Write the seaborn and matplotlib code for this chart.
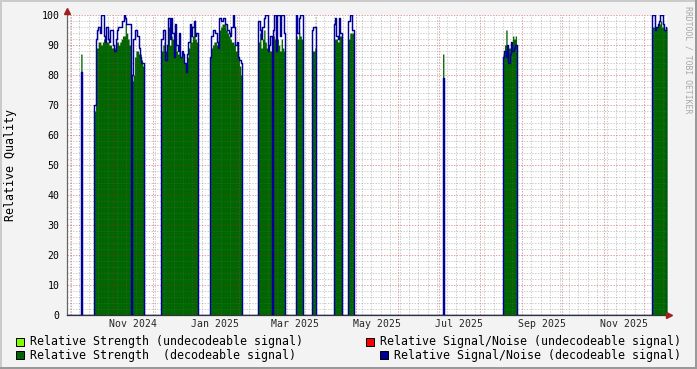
import numpy as np
import pandas as pd
import matplotlib
matplotlib.use("Agg")
import matplotlib.pyplot as plt
import matplotlib.dates as mdates
import matplotlib.ticker as mticker
import matplotlib.transforms as mtransforms
from matplotlib.patches import Rectangle
from matplotlib.lines import Line2D
import seaborn as sns

# ---------------- data ----------------
segment_start = ["2024-10-08", "2024-10-18", "2024-11-15", "2024-12-07", "2025-01-12",
                 "2025-02-17", "2025-02-28", "2025-03-17", "2025-03-29", "2025-04-14",
                 "2025-04-25", "2025-07-04", "2025-08-18", "2025-12-07"]

strength_decodeable = [
    [87],
    [68, 89, 89, 91, 91, 90, 91, 92, 92, 91, 91, 90, 90, 89, 89, 89, 91, 91, 90, 91, 92, 93, 93, 97, 94, 92, 90],
    [78, 80, 86, 88, 88, 87, 87, 85, 83],
    [88, 90, 91, 88, 90, 96, 90, 93, 92, 87, 94, 88, 87, 91, 86, 87, 87, 84, 82, 86, 89, 93, 91, 93, 97, 92, 91],
    [86, 89, 90, 91, 91, 90, 90, 95, 96, 97, 97, 97, 95, 94, 93, 92, 91, 91, 90, 88, 91, 86, 83, 80],
    [91, 94, 89, 92, 95, 91, 89, 88, 88, 88],
    [93, 92, 88, 92, 90, 88, 92, 89, 88],
    [93, 92, 94, 93, 92],
    [88, 88, 89],
    [92, 92, 92, 91, 93, 93],
    [92, 94, 94, 94],
    [87],
    [87, 90, 95, 90, 89, 89, 90, 93, 92, 93],
    [96, 96, 95, 96, 97, 97, 98, 96, 97, 95, 96],
]

snr_decodeable = [
    [81],
    [70, 92, 95, 96, 94, 100, 100, 93, 91, 96, 92, 91, 95, 95, 90, 88, 92, 95, 96, 96, 96, 98, 100, 99, 97, 97, 97],
    [80, 92, 95, 95, 93, 89, 86, 84, 84],
    [92, 95, 95, 85, 90, 99, 92, 99, 94, 86, 97, 90, 88, 94, 86, 88, 87, 84, 81, 87, 91, 97, 93, 96, 98, 93, 94],
    [86, 93, 95, 95, 94, 91, 89, 99, 98, 98, 99, 97, 97, 95, 94, 93, 96, 100, 96, 90, 91, 86, 85, 84],
    [98, 95, 92, 96, 99, 100, 100, 88, 90, 93],
    [95, 100, 88, 100, 100, 93, 100, 100, 94],
    [100, 94, 99, 100, 100],
    [95, 96, 96],
    [97, 99, 93, 92, 99, 94],
    [98, 100, 100, 95],
    [79],
    [86, 88, 86, 90, 84, 87, 91, 88, 89, 90],
    [100, 100, 95, 96, 97, 98, 100, 100, 97, 95, 96],
]

y_ticks = [0, 10, 20, 30, 40, 50, 60, 70, 80, 90, 100]
x_label_dates = ["2024-11-16", "2025-01-16", "2025-03-16", "2025-05-16",
                 "2025-07-16", "2025-09-16", "2025-11-16"]
x_labels = ["Nov 2024", "Jan 2025", "Mar 2025", "May 2025", "Jul 2025", "Sep 2025", "Nov 2025"]
legend_labels = ["Relative Strength (undecodeable signal)",
                 "Relative Strength  (decodeable signal)",
                 "Relative Signal/Noise (undecodeable signal)",
                 "Relative Signal/Noise (decodeable signal)"]
x_start = "2024-09-27 10:00"
x_end = "2025-12-17 12:00"

# ---------------- build series ----------------
days = pd.date_range("2024-09-26", "2025-12-19", freq="D")
df = pd.DataFrame({"date": days, "strength": 0.0, "snr": 0.0})
for start, s, n in zip(segment_start, strength_decodeable, snr_decodeable):
    idx = pd.date_range(start, periods=len(s), freq="D")
    mask = df["date"].isin(idx)
    df.loc[mask, "strength"] = s
    df.loc[mask, "snr"] = n

# ---------------- style ----------------
sns.set_style("white")
plt.rcParams["font.family"] = ["DejaVu Sans Mono"]

W, H = 697, 369
BG = "#F3F3F3"
fig = plt.figure(figsize=(W / 100, H / 100), dpi=100, facecolor=BG)

def fx(x):
    return x / W

def fy(y):
    return 1 - y / H

ax = fig.add_axes([fx(66.5), fy(315), 600 / W, 300 / H])
ax.set_facecolor("white")

C_STR = "#006600"
C_SNR = "#000099"
C_STR_U = "#80FF00"
C_SNR_U = "#FF0000"

ax.fill_between(df["date"], 0, df["strength"], step="post", color=C_STR,
                linewidth=0, zorder=1)
sns.lineplot(data=df, x="date", y="snr", drawstyle="steps-post", color=C_SNR,
             linewidth=1.05, ax=ax, zorder=3, legend=False)

ax.set_xlim(pd.Timestamp(x_start), pd.Timestamp(x_end))
ax.set_ylim(0, 100)
ax.set_xlabel("")
ax.set_ylabel("")

# grid & ticks
ax.xaxis.set_major_locator(mdates.MonthLocator())
ax.xaxis.set_minor_locator(mdates.WeekdayLocator(byweekday=mdates.MO))
ax.xaxis.set_major_formatter(mticker.NullFormatter())
ax.set_yticks(y_ticks)
ax.yaxis.set_minor_locator(mticker.MultipleLocator(2))
ax.set_axisbelow(False)
dot = (0, (1.4, 1.4))
ax.grid(which="major", color=(0.7, 0.1, 0.1), alpha=0.4, linestyle=dot, linewidth=0.72)
ax.grid(which="minor", color=(0.4, 0.4, 0.4), alpha=0.32, linestyle=dot, linewidth=0.72)
ax.tick_params(axis="x", which="major", length=2.5, width=0.72, color="#666666", labelbottom=False)
ax.tick_params(axis="x", which="minor", length=0)
ax.tick_params(axis="y", which="major", length=2.5, width=0.72, color="#666666",
               labelsize=7.1, pad=2.5, labelcolor="black")
ax.tick_params(axis="y", which="minor", length=1.5, width=0.72, color="#888888")

for s in ["top", "right"]:
    ax.spines[s].set_visible(False)
ax.spines["left"].set_color("#666666")
ax.spines["left"].set_linewidth(0.9)
ax.spines["bottom"].set_color("#333333")
ax.spines["bottom"].set_linewidth(0.9)

sec = ax.secondary_xaxis("bottom")
sec.set_xticks([mdates.date2num(pd.Timestamp(d)) for d in x_label_dates], x_labels)
sec.tick_params(length=0, pad=3.0, labelsize=7.1)
sec.spines["bottom"].set_visible(False)

# arrows
arrow_c = "#A02020"
tr_up = mtransforms.offset_copy(ax.transAxes, fig=fig, x=0, y=4.5, units="dots")
ax.plot([0], [1], marker="^", markersize=4.2, color=arrow_c, transform=tr_up,
        clip_on=False, zorder=5)
tr_rt = mtransforms.offset_copy(ax.transAxes, fig=fig, x=2.0, y=0, units="dots")
ax.plot([1], [0], marker=">", markersize=4.2, color=arrow_c, transform=tr_rt,
        clip_on=False, zorder=5)

# y label and watermark
fig.text(fx(11), fy(165), "Relative Quality", rotation=90, fontsize=8.4,
         ha="center", va="center", color="black")
fig.text(fx(688), fy(60), "RRDTOOL / TOBI OETIKER", rotation=270, fontsize=5.9,
         ha="center", va="center", color="#A8A8A8")

# legend
legend_items = [
    (15.5, 337.5, C_STR_U, 30, 345.5, legend_labels[0]),
    (15.5, 351.0, C_STR, 30, 359.0, legend_labels[1]),
    (365.5, 337.5, C_SNR_U, 380, 345.5, legend_labels[2]),
    (379.5, 351.0, C_SNR, 394, 359.0, legend_labels[3]),
]
for (sx, sy, col, tx, ty, lab) in legend_items:
    fig.add_artist(Rectangle((fx(sx), fy(sy + 8)), 8 / W, 8 / H, transform=fig.transFigure,
                             facecolor=col, edgecolor="black", linewidth=0.72))
    fig.text(fx(tx), fy(ty), lab, fontsize=8.35, ha="left", va="baseline", color="black")

# frame (rrdtool shade)
fig.add_artist(Line2D([0, 1], [1 - 1 / H, 1 - 1 / H], transform=fig.transFigure, color="#CBCBCB", linewidth=1.44))
fig.add_artist(Line2D([1 / W, 1 / W], [0, 1], transform=fig.transFigure, color="#CBCBCB", linewidth=1.44))
fig.add_artist(Line2D([0, 1], [1 / H, 1 / H], transform=fig.transFigure, color="#999999", linewidth=1.44))
fig.add_artist(Line2D([1 - 1 / W, 1 - 1 / W], [0, 1], transform=fig.transFigure, color="#999999", linewidth=1.44))

fig.savefig("out.png", dpi=100, facecolor=BG)
